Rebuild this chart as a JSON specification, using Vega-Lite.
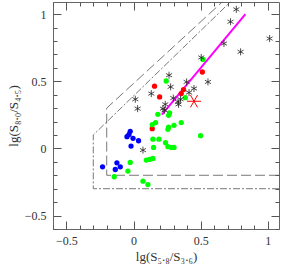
{
  "$schema": "https://vega.github.io/schema/vega-lite/v6.json",
  "autosize": {"type": "none"},
  "padding": {"left": 53, "top": 2, "right": 3, "bottom": 37},
  "width": 226,
  "height": 227,
  "config": {"view": {"stroke": "#666", "strokeWidth": 1}},
  "datasets": {
    "pts": [
      {"x": 0.765, "y": 1.035, "c": "ast"}, {"x": 0.722, "y": 0.943, "c": "ast"}, {"x": 1.013, "y": 0.818, "c": "ast"},
      {"x": 0.673, "y": 0.781, "c": "ast"}, {"x": 0.797, "y": 0.719, "c": "ast"}, {"x": 0.504, "y": 0.677, "c": "ast"},
      {"x": 0.264, "y": 0.545, "c": "ast"}, {"x": 0.395, "y": 0.495, "c": "ast"}, {"x": 0.554, "y": 0.495, "c": "ast"},
      {"x": 0.276, "y": 0.458, "c": "ast"}, {"x": 0.132, "y": 0.408, "c": "ast"}, {"x": 0.45, "y": 0.446, "c": "ast"},
      {"x": 0.413, "y": 0.416, "c": "ast"}, {"x": 0.296, "y": 0.375, "c": "ast"}, {"x": 0.35, "y": 0.366, "c": "ast"},
      {"x": 0.236, "y": 0.328, "c": "ast"}, {"x": 0.331, "y": 0.346, "c": "ast"}, {"x": 0.335, "y": 0.328, "c": "ast"},
      {"x": 0.219, "y": 0.296, "c": "ast"}, {"x": 0.231, "y": 0.284, "c": "ast"}, {"x": 0.013, "y": 0.366, "c": "ast"},
      {"x": 0.03, "y": 0.296, "c": "ast"}, {"x": 0.07, "y": -0.013, "c": "ast"},
      {"x": 0.156, "y": 0.463, "c": "red"}, {"x": 0.194, "y": 0.383, "c": "red"}, {"x": 0.512, "y": 0.569, "c": "red"},
      {"x": 0.372, "y": 0.438, "c": "red"}, {"x": 0.355, "y": 0.408, "c": "red"}, {"x": 0.139, "y": 0.147, "c": "red"},
      {"x": 0.517, "y": 0.662, "c": "green"}, {"x": 0.243, "y": 0.502, "c": "green"}, {"x": 0.385, "y": 0.378, "c": "green"},
      {"x": 0.181, "y": 0.254, "c": "green"}, {"x": 0.268, "y": 0.264, "c": "green"}, {"x": 0.261, "y": 0.246, "c": "green"},
      {"x": 0.164, "y": 0.192, "c": "green"}, {"x": 0.139, "y": 0.177, "c": "green"}, {"x": 0.355, "y": 0.192, "c": "green"},
      {"x": 0.301, "y": 0.172, "c": "green"}, {"x": 0.261, "y": 0.159, "c": "green"}, {"x": 0.256, "y": 0.142, "c": "green"},
      {"x": 0.144, "y": 0.069, "c": "green"}, {"x": 0.189, "y": 0.069, "c": "green"}, {"x": 0.499, "y": 0.095, "c": "green"},
      {"x": 0.238, "y": 0.042, "c": "green"}, {"x": 0.256, "y": 0.013, "c": "green"}, {"x": 0.281, "y": 0.007, "c": "green"},
      {"x": 0.301, "y": 0.007, "c": "green"}, {"x": 0.149, "y": 0.007, "c": "green"}, {"x": 0.095, "y": -0.087, "c": "green"},
      {"x": 0.119, "y": -0.082, "c": "green"}, {"x": 0.144, "y": -0.075, "c": "green"}, {"x": 0.07, "y": -0.244, "c": "green"},
      {"x": 0.107, "y": -0.269, "c": "green"}, {"x": -0.025, "y": -0.104, "c": "green"}, {"x": -0.042, "y": -0.169, "c": "green"},
      {"x": -0.144, "y": -0.211, "c": "green"},
      {"x": -0.025, "y": 0.127, "c": "blue"}, {"x": -0.049, "y": 0.087, "c": "blue"}, {"x": -0.034, "y": 0.104, "c": "blue"},
      {"x": -0.004, "y": 0.075, "c": "blue"}, {"x": 0.037, "y": 0.057, "c": "blue"}, {"x": -0.019, "y": 0.017, "c": "blue"},
      {"x": -0.124, "y": -0.107, "c": "blue"}, {"x": -0.099, "y": -0.137, "c": "blue"}, {"x": -0.136, "y": -0.157, "c": "blue"},
      {"x": -0.231, "y": -0.137, "c": "blue"},
      {"x": 0.45, "y": 0.351, "c": "big"}
    ],
    "lines": [
      {"g": "outer", "o": 1, "x": 1.083, "y": -0.3}, {"g": "outer", "o": 2, "x": -0.3, "y": -0.3},
      {"g": "outer", "o": 3, "x": -0.3, "y": 0.1}, {"g": "outer", "o": 4, "x": 0.72, "y": 1.09},
      {"g": "inner", "o": 1, "x": 1.083, "y": -0.2}, {"g": "inner", "o": 2, "x": -0.2, "y": -0.2},
      {"g": "inner", "o": 3, "x": -0.2, "y": 0.3}, {"g": "inner", "o": 4, "x": 0.66, "y": 1.09},
      {"g": "fit", "o": 1, "x": 0.211, "y": 0.251}, {"g": "fit", "o": 2, "x": 0.833, "y": 0.999}
    ]
  },
  "layer": [
    {
      "data": {"name": "lines"},
      "transform": [{"filter": "datum.g == 'outer'"}],
      "mark": {"type": "line", "color": "#555", "strokeWidth": 0.8, "strokeDash": [7, 2, 2, 2]},
      "encoding": {
        "x": {"field": "x", "type": "quantitative", "scale": {"domain": [-0.6, 1.083], "nice": false, "zero": false},
          "axis": {"orient": "bottom", "values": [-0.5, 0, 0.5, 1], "format": "~g", "tickSize": 8, "offset": -8, "zindex": 1,
            "domain": false, "grid": false, "tickColor": "#555", "labelFont": "Liberation Serif", "labelFontSize": 12,
            "labelColor": "#333", "labelPadding": 6, "labelFlush": false, "labelOverlap": false,
            "title": "lg(S₅.₈/S₃.₆)", "titleFont": "Liberation Serif", "titleFontSize": 13, "titleFontWeight": "normal", "titleColor": "#333", "titlePadding": 4}},
        "y": {"field": "y", "type": "quantitative", "scale": {"domain": [-0.6, 1.09], "nice": false, "zero": false},
          "axis": {"orient": "left", "values": [-0.5, 0, 0.5, 1], "format": "~g", "tickSize": 8, "offset": -8, "zindex": 1,
            "domain": false, "grid": false, "tickColor": "#555", "labelFont": "Liberation Serif", "labelFontSize": 12,
            "labelColor": "#333", "labelPadding": 7, "labelFlush": false, "labelOverlap": false,
            "title": "lg(S₈.₀/S₄.₅)", "titleFont": "Liberation Serif", "titleFontSize": 13, "titleFontWeight": "normal", "titleColor": "#333", "titlePadding": 4}},
        "order": {"field": "o", "type": "quantitative"}
      }
    },
    {
      "data": {"name": "pts"},
      "mark": {"type": "point", "opacity": 0},
      "encoding": {
        "x": {"field": "x", "type": "quantitative",
          "axis": {"orient": "top", "values": [-0.5, 0, 0.5, 1], "tickSize": 8, "offset": -8, "zindex": 1,
            "labels": false, "title": null, "domain": false, "grid": false, "tickColor": "#555"}},
        "y": {"field": "y", "type": "quantitative",
          "axis": {"orient": "right", "values": [-0.5, 0, 0.5, 1], "tickSize": 8, "offset": -8, "zindex": 1,
            "labels": false, "title": null, "domain": false, "grid": false, "tickColor": "#555"}}
      }
    },
    {
      "data": {"name": "lines"},
      "transform": [{"filter": "datum.g == 'inner'"}],
      "mark": {"type": "line", "color": "#555", "strokeWidth": 0.8, "strokeDash": [10, 4]},
      "encoding": {
        "x": {"field": "x", "type": "quantitative",
          "axis": {"orient": "bottom", "values": [-0.6, -0.4, -0.3, -0.2, -0.1, 0.1, 0.2, 0.3, 0.4, 0.6, 0.7, 0.8, 0.9], "tickSize": 4, "offset": -4, "zindex": 1,
            "labels": false, "title": null, "domain": false, "grid": false, "tickColor": "#555"}},
        "y": {"field": "y", "type": "quantitative",
          "axis": {"orient": "left", "values": [-0.6, -0.4, -0.3, -0.2, -0.1, 0.1, 0.2, 0.3, 0.4, 0.6, 0.7, 0.8, 0.9], "tickSize": 4, "offset": -4, "zindex": 1,
            "labels": false, "title": null, "domain": false, "grid": false, "tickColor": "#555"}},
        "order": {"field": "o", "type": "quantitative"}
      }
    },
    {
      "data": {"name": "lines"},
      "transform": [{"filter": "datum.g == 'fit'"}],
      "mark": {"type": "line", "color": "#ff00ff", "strokeWidth": 2},
      "encoding": {
        "x": {"field": "x", "type": "quantitative",
          "axis": {"orient": "top", "values": [-0.6, -0.4, -0.3, -0.2, -0.1, 0.1, 0.2, 0.3, 0.4, 0.6, 0.7, 0.8, 0.9], "tickSize": 4, "offset": -4, "zindex": 1,
            "labels": false, "title": null, "domain": false, "grid": false, "tickColor": "#555"}},
        "y": {"field": "y", "type": "quantitative",
          "axis": {"orient": "right", "values": [-0.6, -0.4, -0.3, -0.2, -0.1, 0.1, 0.2, 0.3, 0.4, 0.6, 0.7, 0.8, 0.9], "tickSize": 4, "offset": -4, "zindex": 1,
            "labels": false, "title": null, "domain": false, "grid": false, "tickColor": "#555"}},
        "order": {"field": "o", "type": "quantitative"}
      }
    },
    {
      "data": {"name": "pts"},
      "transform": [{"filter": "datum.c == 'blue' || datum.c == 'green' || datum.c == 'red'"}],
      "mark": {"type": "point", "filled": true, "shape": "circle", "size": 28, "opacity": 1, "strokeWidth": 0},
      "encoding": {
        "x": {"field": "x", "type": "quantitative", "axis": null},
        "y": {"field": "y", "type": "quantitative", "axis": null},
        "color": {"field": "c", "type": "nominal", "scale": {"domain": ["blue", "green", "red"], "range": ["#0000ff", "#00ff00", "#ff0000"]}, "legend": null}
      }
    },
    {
      "data": {"name": "pts"},
      "transform": [{"filter": "datum.c == 'ast'"}],
      "mark": {"type": "point", "filled": false, "shape": "M0,-1L0,1M-0.866,-0.5L0.866,0.5M-0.866,0.5L0.866,-0.5", "size": 49, "color": "#222", "strokeWidth": 0.8, "opacity": 1},
      "encoding": {
        "x": {"field": "x", "type": "quantitative", "axis": null},
        "y": {"field": "y", "type": "quantitative", "axis": null}
      }
    },
    {
      "data": {"name": "pts"},
      "transform": [{"filter": "datum.c == 'big'"}],
      "mark": {"type": "point", "filled": false, "shape": "M-1,0L1,0M-0.5,-0.866L0.5,0.866M-0.5,0.866L0.5,-0.866", "size": 200, "color": "#ff0000", "strokeWidth": 1, "opacity": 1},
      "encoding": {
        "x": {"field": "x", "type": "quantitative", "axis": null},
        "y": {"field": "y", "type": "quantitative", "axis": null}
      }
    }
  ],
  "resolve": {"axis": {"x": "independent", "y": "independent"}}
}
